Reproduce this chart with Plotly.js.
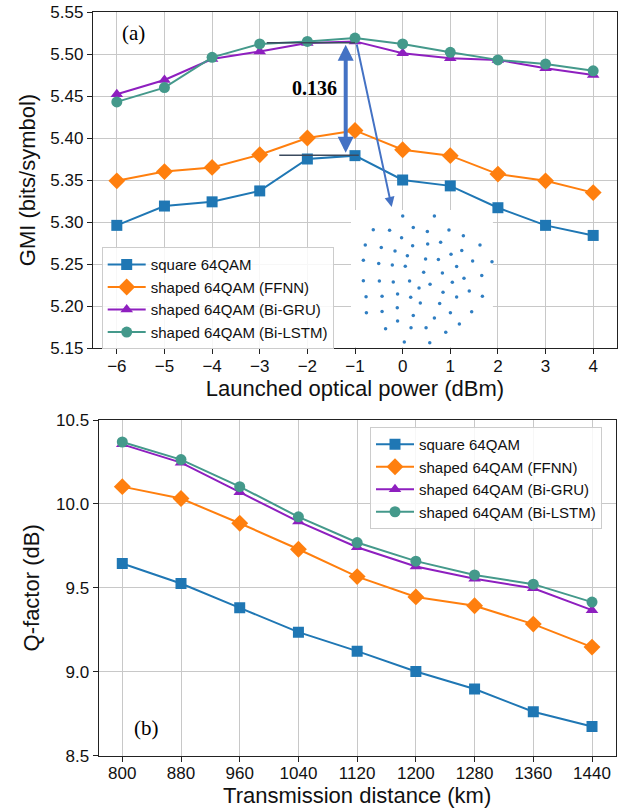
<!DOCTYPE html>
<html>
<head>
<meta charset="utf-8">
<script src="https://cdn.plot.ly/plotly-3.0.1.min.js"></script>
<style>html,body{margin:0;padding:0;background:#fff;}#chart{width:630px;height:812px;}</style>
</head>
<body>
<div id="chart"></div>
<script>
// ---------- data: panel (a) ----------
const powerDBm = [-6, -5, -4, -3, -2, -1, 0, 1, 2, 3, 4];
const gmiSquare = [5.296, 5.319, 5.324, 5.337, 5.375, 5.379, 5.350, 5.343, 5.317, 5.296, 5.284];
const gmiFFNN   = [5.349, 5.360, 5.365, 5.380, 5.400, 5.409, 5.386, 5.379, 5.357, 5.349, 5.335];
const gmiBiGRU  = [5.452, 5.469, 5.494, 5.503, 5.513, 5.515, 5.501, 5.495, 5.493, 5.483, 5.475];
const gmiBiLSTM = [5.443, 5.460, 5.496, 5.512, 5.515, 5.519, 5.512, 5.502, 5.493, 5.488, 5.480];
const gmiTicks = [5.15, 5.20, 5.25, 5.30, 5.35, 5.40, 5.45, 5.50, 5.55];

// ---------- data: panel (b) ----------
const distanceKm = [800, 880, 960, 1040, 1120, 1200, 1280, 1360, 1440];
const qSquare = [9.645, 9.526, 9.381, 9.236, 9.123, 9.002, 8.897, 8.762, 8.674];
const qFFNN   = [10.103, 10.032, 9.885, 9.730, 9.567, 9.446, 9.393, 9.284, 9.147];
const qBiGRU  = [10.355, 10.246, 10.070, 9.895, 9.742, 9.627, 9.554, 9.498, 9.367];
const qBiLSTM = [10.369, 10.264, 10.103, 9.923, 9.770, 9.659, 9.577, 9.522, 9.415];
const qTicks = [8.5, 9.0, 9.5, 10.0, 10.5];

// ---------- data: shaped 64QAM constellation inset ----------
const constI = [-1.56,0.42,-3.40,-2.38,-0.90,-0.02,1.33,2.23,-1.63,-3.90,-2.90,-0.94,0.00,0.81,3.27,-2.04,-1.27,1.46,2.13,
  -4.02,-3.06,-2.21,-1.40,-0.13,0.67,1.81,2.81,4.02,-0.25,0.92,3.38,-4.02,-3.02,-2.15,-1.13,0.15,-0.54,1.54,2.27,
  -1.88,0.96,2.60,-3.85,-2.85,-1.06,1.81,3.42,-0.46,0.75,-3.83,-2.85,-1.90,-0.90,0.42,1.42,2.75,-1.88,1.98,
  -2.63,-1.04,-0.10,1.13,-1.46,0.13];
const constQ = [3.79,3.79,2.94,2.90,3.08,2.83,2.92,2.56,2.44,1.98,1.83,1.94,2.04,2.15,1.98,1.60,1.31,1.40,1.63,
  1.02,0.83,0.73,0.65,1.10,1.08,0.63,0.98,0.94,0.27,0.23,0.08,-0.25,-0.27,-0.33,-0.27,-0.48,-0.71,-0.35,-0.10,
  -1.08,-0.98,-0.90,-1.25,-1.23,-1.29,-1.27,-1.23,-1.65,-1.67,-2.25,-2.17,-1.94,-2.42,-2.58,-2.25,-2.19,-2.77,-2.96,
  -3.25,-3.19,-3.19,-3.48,-4.08,-4.13];

const seriesNames = ['square 64QAM', 'shaped 64QAM (FFNN)', 'shaped 64QAM (Bi-GRU)', 'shaped 64QAM (Bi-LSTM)'];

// ---------- styles / layout constants ----------
const colors = ['#1f77b4', '#ff7f0e', '#8e1fbf', '#44998b'];
const symbols = ['square', 'diamond', 'triangle-up', 'circle'];
const msizes = [11, 13, 11, 11];
const FONT = 'Liberation Sans, Arial, Helvetica, sans-serif';
const SERIF = 'Liberation Serif, Times New Roman, serif';
const arrowBlue = '#4472c4';
// white backing behind the constellation inset (in panel-(a) axis units)
const INSET_BOX = {x0: -1.084, x1: 1.895, y0: 5.151, y1: 5.3143};

function mk(x, y, i, xa, ya, lg) {
  return {
    x: x, y: y, name: seriesNames[i], type: 'scatter', mode: 'lines+markers',
    xaxis: xa, yaxis: ya, legend: lg,
    line: {color: colors[i], width: 2},
    marker: {color: colors[i], symbol: symbols[i], size: msizes[i]}
  };
}

const traces = [
  {x: [INSET_BOX.x0, INSET_BOX.x1, INSET_BOX.x1, INSET_BOX.x0, INSET_BOX.x0],
   y: [INSET_BOX.y0, INSET_BOX.y0, INSET_BOX.y1, INSET_BOX.y1, INSET_BOX.y0],
   type: 'scatter', mode: 'lines', fill: 'toself', fillcolor: '#ffffff', line: {width: 0, color: 'rgba(0,0,0,0)'},
   xaxis: 'x', yaxis: 'y', showlegend: false, hoverinfo: 'skip'},
  mk(powerDBm, gmiSquare, 0, 'x', 'y', 'legend'),
  mk(powerDBm, gmiFFNN, 1, 'x', 'y', 'legend'),
  mk(powerDBm, gmiBiGRU, 2, 'x', 'y', 'legend'),
  mk(powerDBm, gmiBiLSTM, 3, 'x', 'y', 'legend'),
  mk(distanceKm, qSquare, 0, 'x2', 'y2', 'legend2'),
  mk(distanceKm, qFFNN, 1, 'x2', 'y2', 'legend2'),
  mk(distanceKm, qBiGRU, 2, 'x2', 'y2', 'legend2'),
  mk(distanceKm, qBiLSTM, 3, 'x2', 'y2', 'legend2'),
  {x: constI, y: constQ, type: 'scatter', mode: 'markers', xaxis: 'x3', yaxis: 'y3', showlegend: false,
   marker: {color: '#2f7ec2', size: 3.5}, hoverinfo: 'skip'}
];

const axCommon = {
  showline: true, mirror: true, linecolor: '#222', linewidth: 1.2,
  ticks: 'outside', ticklen: 5, tickcolor: '#222', tickwidth: 1,
  showgrid: true, gridcolor: '#c8c8c8', gridwidth: 1, zeroline: false,
  tickfont: {family: FONT, size: 17, color: '#111'}
};

const legendCommon = {
  xanchor: 'left', yanchor: 'top',
  bgcolor: 'rgba(255,255,255,0.85)', bordercolor: '#cccccc', borderwidth: 1,
  font: {family: FONT, size: 15, color: '#111'}, tracegroupgap: 0, itemwidth: 38
};

const layout = {
  width: 630, height: 812,
  margin: {l: 0, r: 0, t: 0, b: 0},
  paper_bgcolor: '#fff', plot_bgcolor: 'rgba(0,0,0,0)',
  font: {family: FONT, color: '#111'},
  xaxis: Object.assign({}, axCommon, {
    domain: [93/630, 617/630], anchor: 'y', range: [-6.5, 4.5], tickvals: powerDBm, ticklabelstandoff: -3,
    title: {text: 'Launched optical power (dBm)', font: {family: FONT, size: 22, color: '#111'}, standoff: 0}
  }),
  yaxis: Object.assign({}, axCommon, {
    domain: [464/812, 800/812], anchor: 'x', range: [5.15, 5.55], tickvals: gmiTicks, tickformat: '.2f',
    title: {text: 'GMI (bits/symbol)', font: {family: FONT, size: 22, color: '#111'}, standoff: 8}
  }),
  xaxis2: Object.assign({}, axCommon, {
    domain: [98.8/630, 615.5/630], anchor: 'y2', range: [768, 1472], tickvals: distanceKm, ticklabelstandoff: -3,
    title: {text: 'Transmission distance (km)', font: {family: FONT, size: 22, color: '#111'}, standoff: 2}
  }),
  yaxis2: Object.assign({}, axCommon, {
    domain: [56.3/812, 392/812], anchor: 'x2', range: [8.5, 10.5], tickvals: qTicks, tickformat: '.1f',
    title: {text: 'Q-factor (dB)', font: {family: FONT, size: 22, color: '#111'}, standoff: 10}
  }),
  xaxis3: {domain: [345/630, 505/630], anchor: 'y3', range: [-5.167, 4.833], visible: false, fixedrange: true},
  yaxis3: {domain: [462/812, 612/812], anchor: 'x3', range: [-4.583, 4.792], visible: false, fixedrange: true},
  legend: Object.assign({}, legendCommon, {x: 101.7/630, y: (812-247.3)/812}),
  legend2: Object.assign({}, legendCommon, {x: 370/630, y: (812-427)/812}),
  shapes: [
    {type: 'line', xref: 'x', yref: 'y', x0: -2.59, x1: -0.92, y0: 5.3795, y1: 5.3795,
     line: {color: '#3b4a5e', width: 1.5}},
    {type: 'line', xref: 'x', yref: 'y', x0: -2.85, x1: -1.0, y0: 5.5134, y1: 5.5134,
     line: {color: '#3b4a5e', width: 1.5}}
  ],
  annotations: [
    {xref: 'x', yref: 'y', axref: 'x', ayref: 'y', x: -1.195, y: 5.3825, ax: -1.195, ay: 5.5127,
     showarrow: true, arrowside: 'end+start', arrowhead: 2, arrowsize: 0.8, arrowwidth: 4, arrowcolor: arrowBlue, text: ''},
    {xref: 'x', yref: 'y', axref: 'x', ayref: 'y', x: -0.23, y: 5.318, ax: -0.97, ay: 5.513,
     showarrow: true, arrowhead: 2, arrowsize: 1, arrowwidth: 2, arrowcolor: arrowBlue, text: ''},
    {xref: 'x', yref: 'y', x: -1.85, y: 5.459, xanchor: 'center', yanchor: 'middle', text: '<b>0.136</b>', showarrow: false,
     font: {family: SERIF, size: 20, color: '#000'}},
    {xref: 'x domain', yref: 'y domain', x: 0.078, y: 0.9375, xanchor: 'center', yanchor: 'middle', text: '(a)', showarrow: false,
     font: {family: SERIF, size: 21, color: '#000'}},
    {xref: 'x2 domain', yref: 'y2 domain', x: 0.0923, y: 0.0825, xanchor: 'center', yanchor: 'middle', text: '(b)', showarrow: false,
     font: {family: SERIF, size: 21, color: '#000'}}
  ]
};

Plotly.newPlot('chart', traces, layout, {staticPlot: true, displayModeBar: false});
</script>
</body>
</html>
